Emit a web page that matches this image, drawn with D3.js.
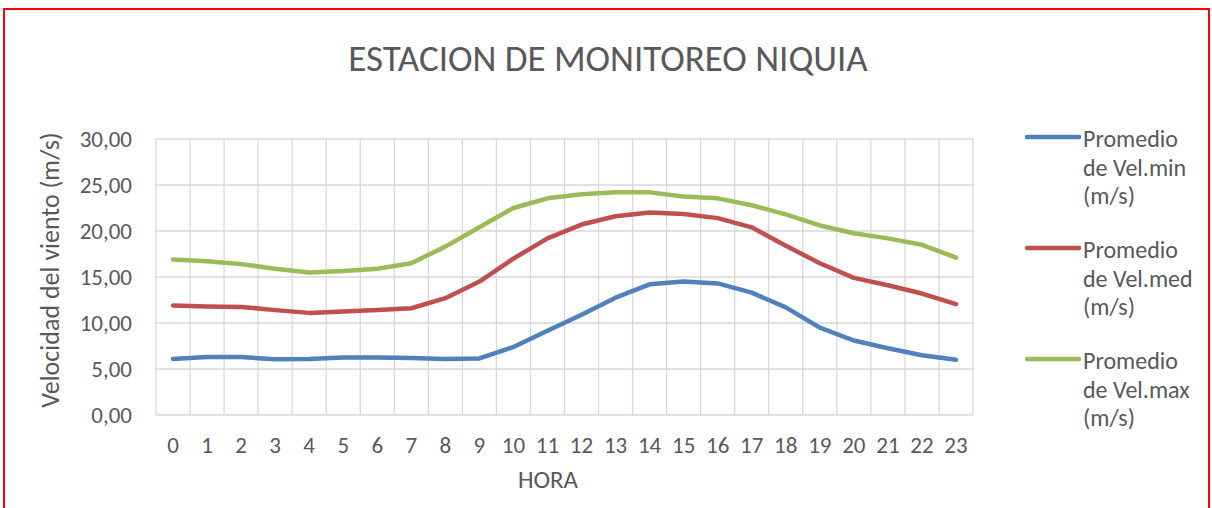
<!DOCTYPE html>
<html>
<head>
<meta charset="utf-8">
<script src="https://cdnjs.cloudflare.com/ajax/libs/d3/7.8.5/d3.min.js"></script>
<style>
  body { margin: 0; background: #fff; }
  text { font-family: Carlito, Calibri, "Open Sans", sans-serif; fill: #595959; }
</style>
</head>
<body>
<div class="chart"></div>
<script>
// Data
var hours = d3.range(0, 24).map(String);
var velMin = [6.1, 6.3, 6.3, 6.05, 6.1, 6.25, 6.25, 6.2, 6.1, 6.15, 7.4, 9.15,
              10.9, 12.75, 14.2, 14.5, 14.3, 13.3, 11.7, 9.5, 8.1, 7.25, 6.5, 6.0];
var velMed = [11.9, 11.8, 11.75, 11.4, 11.1, 11.25, 11.4, 11.6, 12.7, 14.5, 17.0, 19.2,
              20.7, 21.6, 22.0, 21.85, 21.4, 20.4, 18.4, 16.5, 14.9, 14.1, 13.2, 12.05];
var velMax = [16.9, 16.7, 16.4, 15.9, 15.5, 15.65, 15.9, 16.5, 18.3, 20.4, 22.5, 23.55,
              24.0, 24.2, 24.2, 23.75, 23.55, 22.8, 21.8, 20.6, 19.75, 19.2, 18.5, 17.1];
var yTicks = [0, 5, 10, 15, 20, 25, 30];
var seriesNames = [["Promedio", "de Vel.min", "(m/s)"],
                   ["Promedio", "de Vel.med", "(m/s)"],
                   ["Promedio", "de Vel.max", "(m/s)"]];
var colors = ["#4f81bd", "#c0504d", "#9bbb59"];

var svgWidth = 1212;
var svgHeight = 508;
var margin = { top: 139, left: 156 };
var width = 817;
var height = 276;

var svg = d3.select(".chart")
  .append("svg")
  .attr("width", svgWidth)
  .attr("height", svgHeight);

// red frame
svg.append("rect")
  .attr("x", 4).attr("y", 9)
  .attr("width", 1205).attr("height", 530)
  .attr("fill", "none")
  .attr("stroke", "#ff0000")
  .attr("stroke-width", 2);

var chartGroup = svg.append("g")
  .attr("transform", `translate(${margin.left}, ${margin.top})`);

var xScale = d3.scaleBand()
  .domain(hours)
  .range([0, width]);

var yScale = d3.scaleLinear()
  .domain([0, 30])
  .range([height, 0]);

// horizontal grid
chartGroup.append("g")
  .selectAll("line")
  .data(yTicks)
  .enter()
  .append("line")
  .attr("x1", 0).attr("x2", width)
  .attr("y1", d => yScale(d)).attr("y2", d => yScale(d))
  .attr("stroke", "#d9d9d9")
  .attr("stroke-width", 1.3);

// vertical grid at category boundaries
var bounds = hours.map(h => xScale(h)).concat([width]);
chartGroup.append("g")
  .selectAll("line")
  .data(bounds)
  .enter()
  .append("line")
  .attr("x1", d => d).attr("x2", d => d)
  .attr("y1", 0).attr("y2", height)
  .attr("stroke", "#d9d9d9")
  .attr("stroke-width", 1.3);

// axes labels
var leftAxis = d3.axisLeft(yScale)
  .tickValues(yTicks)
  .tickSize(0)
  .tickPadding(24)
  .tickFormat(d => d3.format(".2f")(d).replace(".", ","));
var yAxisG = chartGroup.append("g").call(leftAxis);
yAxisG.select(".domain").remove();
yAxisG.selectAll("text")
  .style("font-size", "23px")
  .attr("fill", "#595959");

var bottomAxis = d3.axisBottom(xScale)
  .tickSize(0)
  .tickPadding(22);
var xAxisG = chartGroup.append("g")
  .attr("transform", `translate(0, ${height})`)
  .call(bottomAxis);
xAxisG.select(".domain").remove();
xAxisG.selectAll("text")
  .style("font-size", "23px")
  .attr("fill", "#595959");

// lines
var line = d3.line()
  .x((d, i) => xScale(hours[i]) + xScale.bandwidth() / 2)
  .y(d => yScale(d));

[velMin, velMed, velMax].forEach(function(values, i) {
  chartGroup.append("path")
    .datum(values)
    .attr("d", line)
    .attr("fill", "none")
    .attr("stroke", colors[i])
    .attr("stroke-width", 4.5)
    .attr("stroke-linecap", "round")
    .attr("stroke-linejoin", "round");
});

// title
svg.append("text")
  .attr("x", 608).attr("y", 71)
  .attr("text-anchor", "middle")
  .style("font-size", "37px")
  .text("ESTACION DE MONITOREO NIQUIA");

// axis titles
svg.append("text")
  .attr("x", 548).attr("y", 488)
  .attr("text-anchor", "middle")
  .style("font-size", "25px")
  .text("HORA");

svg.append("text")
  .attr("transform", "translate(59, 270) rotate(-90)")
  .attr("text-anchor", "middle")
  .style("font-size", "26px")
  .text("Velocidad del viento (m/s)");

// legend
var legend = svg.append("g")
  .attr("transform", "translate(1025, 137)");
seriesNames.forEach(function(lines, i) {
  var g = legend.append("g").attr("transform", `translate(0, ${i * 111})`);
  g.append("line")
    .attr("x1", 2).attr("x2", 54)
    .attr("y1", 0).attr("y2", 0)
    .attr("stroke", colors[i])
    .attr("stroke-width", 4.5)
    .attr("stroke-linecap", "round");
  lines.forEach(function(t, j) {
    g.append("text")
      .attr("x", 58)
      .attr("y", 10 + j * 28.5)
      .style("font-size", "24px")
      .text(t);
  });
});
</script>
</body>
</html>
